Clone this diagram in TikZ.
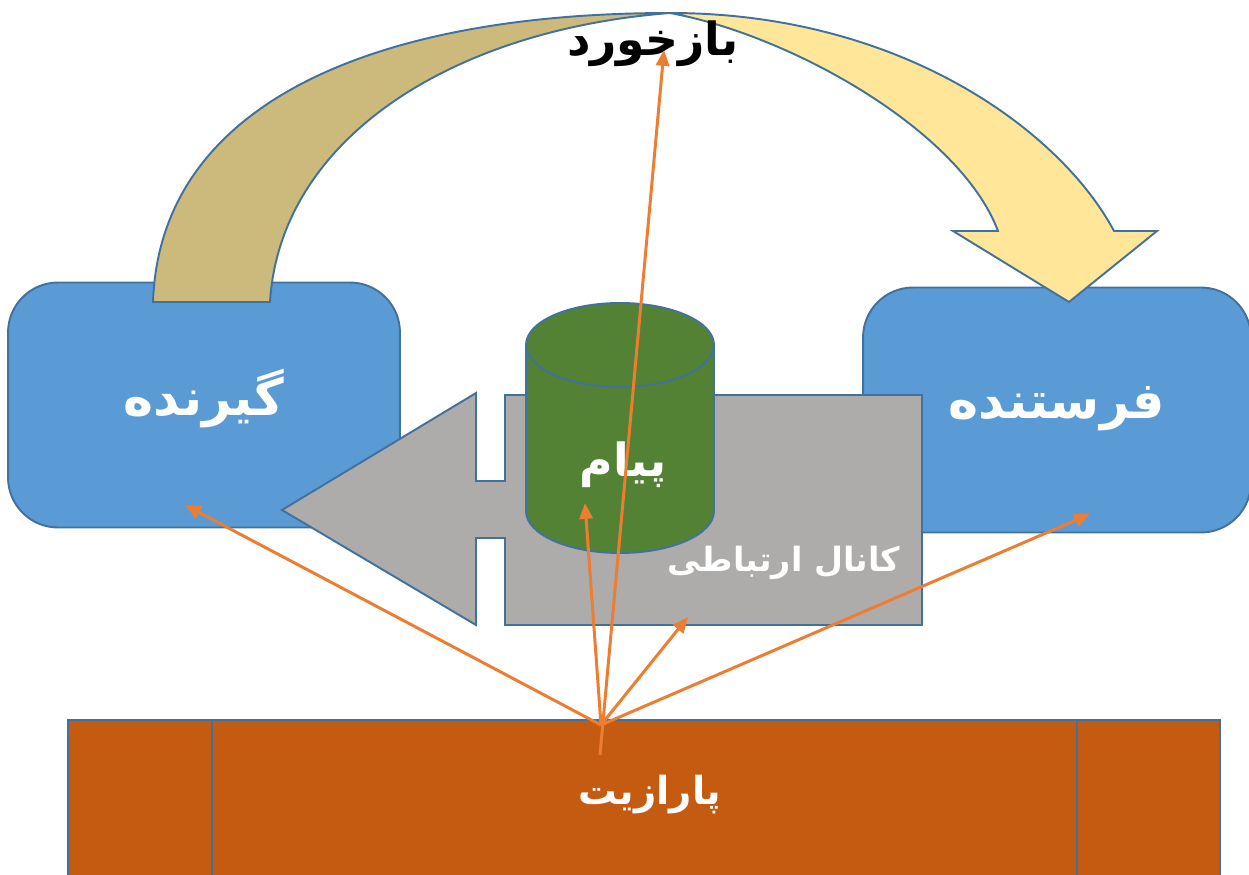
\documentclass[tikz,border=0pt]{standalone}
\usepackage{fontspec}
\usetikzlibrary{arrows.meta}
\newfontfamily\farsi[Script=Arabic]{DejaVu Sans}
\TeXXeTstate=1

\definecolor{edgeblue}{HTML}{41719C}
\definecolor{boxblue}{HTML}{5B9BD5}
\definecolor{backtan}{HTML}{CCB97C}
\definecolor{frontyellow}{HTML}{FFE699}
\definecolor{chgray}{HTML}{AEABAB}
\definecolor{msggreen}{HTML}{548235}
\definecolor{noisebrown}{HTML}{C55A11}
\definecolor{noiseorange}{HTML}{ED7D31}

\tikzstyle{shapeline}=[draw=edgeblue, line width=1.1pt]
\tikzstyle{party}=[shapeline, fill=boxblue, rounded corners=1cm, minimum height=4.9cm, inner sep=0pt, text=white, font=\farsi\bfseries\fontsize{29}{34}\selectfont]
\tikzstyle{word}=[inner sep=0pt, text=white, font=\farsi\bfseries]
\tikzstyle{noisearrow}=[draw=noiseorange, line width=1.7pt, -{Triangle[length=9pt,width=7.5pt]}]

\begin{document}
\begin{tikzpicture}[x=0.02cm, y=-0.02cm]
    \useasboundingbox (0,0) rectangle (1249,875);
    \clip (0,0) rectangle (1249,875);
    % First the receiver and sender boxes
    \node[party, minimum width=7.84cm, text depth=0.5cm] (receiver) at (204,405) {\beginR گیرنده\endR};
    \node[party, minimum width=7.76cm, text depth=0.3cm] (sender) at (1057,410) {\beginR فرستنده\endR};

    % Feedback arrow over the top
    \coordinate (apex) at (670,13);
    \path[shapeline, fill=backtan] (153,302) .. controls (160,100) and (380,13) .. (apex)
        .. controls (450,30) and (280,140) .. (270,302) -- cycle;
    \path[shapeline, fill=frontyellow] (apex) .. controls (900,13) and (1060,130) .. (1114,231)
        -- (1157,231) -- (1069,302) -- (953,231) -- (998,231)
        .. controls (960,130) and (790,35) .. (apex) -- cycle;
    \node[word, text=black, font=\farsi\bfseries\fontsize{26}{31}\selectfont] (feedback) at (653,44) {\beginR بازخورد\endR};

    % Channel, a left arrow callout
    \path[shapeline, fill=chgray] (922,395) -- (505,395) -- (505,481) -- (476,481) -- (476,393)
        -- (282,510) -- (476,625) -- (476,538) -- (505,538) -- (505,625) -- (922,625) -- cycle;
    \node[word, font=\farsi\bfseries\fontsize{19}{23}\selectfont] (channel) at (784,563) {\beginR کانال ارتباطی\endR};

    % Message cylinder
    \path[shapeline, fill=msggreen] (526,345) -- (526,511) arc[start angle=180, end angle=0, x radius=94, y radius=42]
        -- (714,345) -- cycle;
    \path[shapeline, fill=msggreen] (620,345) ellipse[x radius=94, y radius=42];
    \node[word, font=\farsi\bfseries\fontsize{26}{31}\selectfont] (message) at (623,465) {\beginR پیام\endR};

    % Noise block
    \path[shapeline, fill=noisebrown] (68,720) rectangle (1220,900);
    \draw[edgeblue, line width=1.1pt] (212,720) -- (212,900) (1077,720) -- (1077,900);
    \node[word, font=\farsi\bfseries\fontsize{22}{26}\selectfont] (noise) at (650,795) {\beginR پارازیت\endR};

    % Noise reaches every part
    \coordinate (src) at (601,725);
    \coordinate (srcfoot) at (600,755);
    \coordinate (fbtip) at (664,50);
    \coordinate (rcvtip) at (185,505);
    \coordinate (msgtip) at (585,503);
    \coordinate (chtip) at (688,617);
    \coordinate (sndtip) at (1090,514);
    \path[noisearrow] (srcfoot) -- (fbtip);
    \foreach \dest in {rcvtip, msgtip, chtip, sndtip}
        \path[noisearrow] (src) -- (\dest);
\end{tikzpicture}
\end{document}
